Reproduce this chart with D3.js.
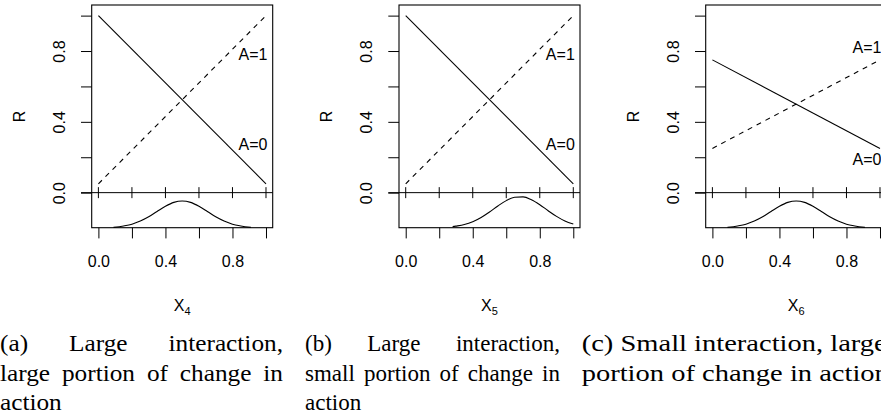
<!DOCTYPE html>
<html>
<head>
<meta charset="utf-8">
<script src="https://cdn.jsdelivr.net/npm/d3@7"></script>
<style>
  body { margin: 0; background: #fff; }
  svg { display: block; }
  .plot text { font-family: "Liberation Sans", Arial, Helvetica, sans-serif; font-size: 16px; fill: #000; }
  .cap text { font-family: "Liberation Serif", "Times New Roman", serif; font-size: 23px; fill: #000; }
</style>
</head>
<body>
<svg id="chart" width="881" height="414"></svg>
<script>
// response lines, value at x = 0 and at x = 1
const xEnds = [0, 1];
const lineA0 = [[1.0, 0.05], [1.0, 0.05], [0.75, 0.25]];
const lineA1 = [[0.05, 1.0], [0.05, 1.0], [0.25, 0.75]];
const labelA1y = [0.78, 0.78, 0.82];
const labelA0y = [0.275, 0.275, 0.19];
const subscripts = ["4", "5", "6"];

// density of X along the strip under each panel
const densCentredX = [0.09, 0.15, 0.2, 0.25, 0.3, 0.35, 0.4, 0.45, 0.5, 0.55, 0.6, 0.65, 0.7, 0.75, 0.8, 0.85, 0.91];
const densCentredY = [-0.196, -0.188, -0.178, -0.160, -0.136, -0.106, -0.077, -0.055, -0.047,
                      -0.055, -0.077, -0.106, -0.136, -0.160, -0.178, -0.188, -0.196];
const densShiftedX = [0.28, 0.3, 0.35, 0.4, 0.45, 0.5, 0.55, 0.6, 0.65, 0.7, 0.75, 0.8, 0.85, 0.9, 0.95, 1.0];
const densShiftedY = [-0.192, -0.189, -0.180, -0.164, -0.140, -0.109, -0.075, -0.045, -0.026,
                      -0.024, -0.040, -0.068, -0.102, -0.134, -0.160, -0.177];

const xTicks = [0, 0.2, 0.4, 0.6, 0.8, 1.0];
const yTicks = [0, 0.2, 0.4, 0.6, 0.8, 1.0];
const shownTicks = [0, 0.4, 0.8];

const captionLines = [
  [["(a)", "Large", "interaction,"], ["large", "portion", "of", "change", "in"], ["action"]],
  [["(b)", "Large", "interaction,"], ["small", "portion", "of", "change", "in"], ["action"]],
  [["(c)", "Small", "interaction,", "large"], ["portion", "of", "change", "in", "action"]]
];
const captionJustify = [[true, true, false], [true, true, false], [false, false]];

// layout
const panelLeft = [91.7, 399, 705.7];
const panelW = 181, boxTop = 5, boxBottom = 227.7;
const capLeft = [0, 305, 581.7], capRight = [283, 560, 960], capScaleX = [1.1, 1.0, 1.24];
const capBaselines = [351, 381, 410];

const svg = d3.select("#chart");
svg.append("rect").attr("width", 881).attr("height", 414).attr("fill", "#fff");

const densities = [
  d3.zip(densCentredX, densCentredY),
  d3.zip(densShiftedX, densShiftedY),
  d3.zip(densCentredX, densCentredY)
];
const fmt = d3.format(".1f");

panelLeft.forEach((left, i) => {
  const x = d3.scaleLinear().domain([-0.04, 1.04]).range([left, left + panelW]);
  const y = d3.scaleLinear().domain([-0.198, 1.06]).range([boxBottom, boxTop]);
  const g = svg.append("g").attr("class", "plot");

  // y axis with rotated labels
  const yAxis = g.append("g")
    .attr("transform", `translate(${left},0)`)
    .call(d3.axisLeft(y).tickValues(yTicks).tickSize(10.7)
      .tickFormat(d => shownTicks.includes(d) ? fmt(d) : ""));
  yAxis.select(".domain").remove();
  yAxis.selectAll("line").attr("stroke", "#000");
  yAxis.selectAll("text")
    .attr("x", null).attr("dy", null)
    .attr("text-anchor", "middle")
    .attr("transform", "translate(-27,0) rotate(-90)");

  // x axis under the box
  const xAxis = g.append("g")
    .attr("transform", `translate(0,${boxBottom})`)
    .call(d3.axisBottom(x).tickValues(xTicks).tickSize(10.7).tickPadding(17)
      .tickFormat(d => shownTicks.includes(d) ? fmt(d) : ""));
  xAxis.select(".domain").remove();
  xAxis.selectAll("line").attr("stroke", "#000");

  // box
  g.append("rect")
    .attr("x", x.range()[0]).attr("y", y.range()[1])
    .attr("width", x.range()[1] - x.range()[0])
    .attr("height", y.range()[0] - y.range()[1])
    .attr("fill", "none").attr("stroke", "#000").attr("stroke-width", 1.1);

  // zero line with crossing ticks
  g.append("line")
    .attr("x1", left - 10.7).attr("x2", x.range()[1])
    .attr("y1", y(0)).attr("y2", y(0))
    .attr("stroke", "#000").attr("stroke-width", 1);
  g.selectAll("line.midtick").data(xTicks).join("line")
    .attr("class", "midtick")
    .attr("x1", d => x(d)).attr("x2", d => x(d))
    .attr("y1", y(0) - 5.5).attr("y2", y(0) + 5.5)
    .attr("stroke", "#000");

  // response lines
  const line = d3.line().x(d => x(d[0])).y(d => y(d[1]));
  g.append("path")
    .attr("d", line(d3.zip(xEnds, lineA0[i])))
    .attr("fill", "none").attr("stroke", "#000").attr("stroke-width", 1.1);
  g.append("path")
    .attr("d", line(d3.zip(xEnds, lineA1[i])))
    .attr("fill", "none").attr("stroke", "#000").attr("stroke-width", 1.1)
    .attr("stroke-dasharray", "5,5");

  // density strip
  g.append("path")
    .attr("d", line.curve(d3.curveMonotoneX)(densities[i]))
    .attr("fill", "none").attr("stroke", "#000").attr("stroke-width", 1.1);

  // line labels
  g.append("text").attr("x", x(1) + 1.5).attr("y", y(labelA1y[i])).attr("dy", "0.36em")
    .attr("text-anchor", "end").text("A=1");
  g.append("text").attr("x", x(1) + 1.5).attr("y", y(labelA0y[i])).attr("dy", "0.36em")
    .attr("text-anchor", "end").text("A=0");

  // axis titles
  const midY = (y.range()[0] + y.range()[1]) / 2;
  g.append("text")
    .attr("transform", `translate(${left - 67},${midY}) rotate(-90)`)
    .attr("text-anchor", "middle").text("R");
  const xt = g.append("text")
    .attr("x", (x.range()[0] + x.range()[1]) / 2).attr("y", 310.5)
    .attr("text-anchor", "middle");
  xt.append("tspan").text("X");
  xt.append("tspan").attr("dy", 4).style("font-size", "11px").text(subscripts[i]);
});

// sub-figure captions, justified word by word
captionLines.forEach((lines, c) => {
  const sx = capScaleX[c];
  const width = (capRight[c] - capLeft[c]) / sx;
  const cg = svg.append("g").attr("class", "cap")
    .attr("transform", `translate(${capLeft[c]},0) scale(${sx},1)`);
  lines.forEach((words, li) => {
    const texts = words.map(w => cg.append("text").attr("y", capBaselines[li]).text(w));
    const widths = texts.map(t => t.node().getComputedTextLength());
    const total = d3.sum(widths);
    const gap = captionJustify[c][li] && words.length > 1
      ? (width - total) / (words.length - 1)
      : 23 * 0.25;
    let pos = 0;
    texts.forEach((t, k) => {
      t.attr("x", pos);
      pos += widths[k] + gap;
    });
  });
});
</script>
</body>
</html>
